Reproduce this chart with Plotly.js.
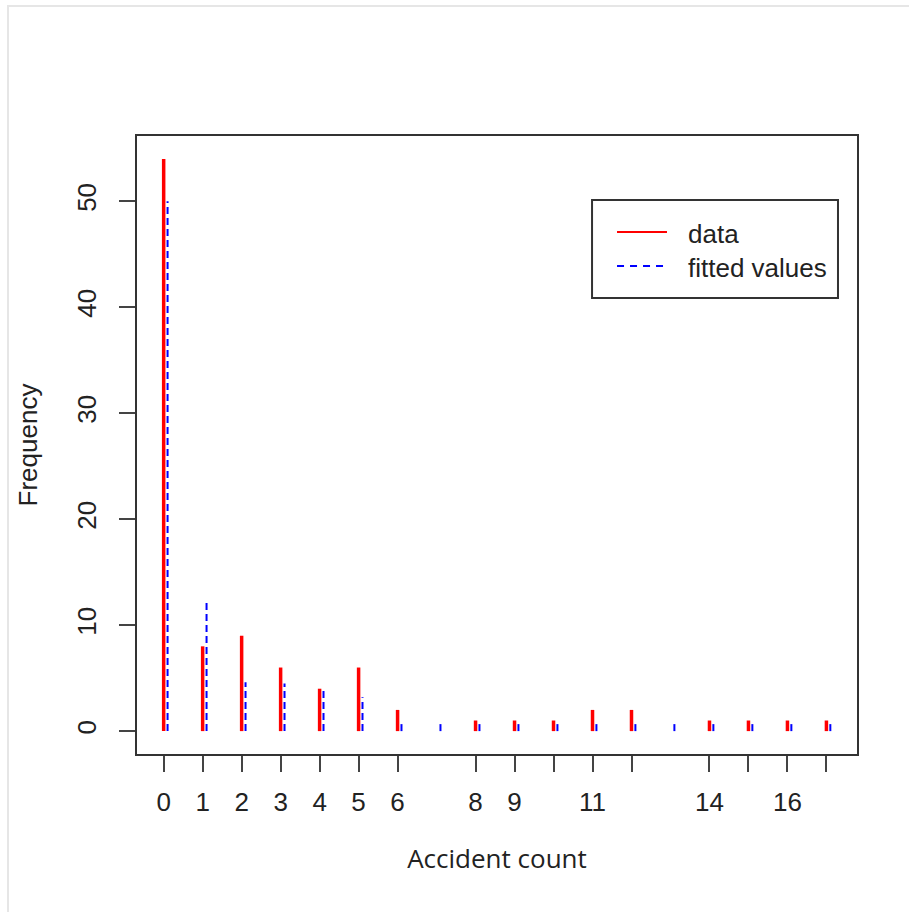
<!DOCTYPE html>
<html>
<head>
<meta charset="utf-8">
<script src="https://cdn.plot.ly/plotly-3.0.1.min.js"></script>
<style>
  html, body { margin: 0; padding: 0; background: #ffffff; }
  #chart { width: 909px; height: 912px; position: absolute; left: 0; top: 0; }
  #frame { position: absolute; left: 7px; top: 5px; right: 0; bottom: 0;
           border-left: 2px solid #e6e6e6; border-top: 2px solid #e6e6e6;
           pointer-events: none; }
</style>
</head>
<body>
<div id="chart"></div>
<div id="frame"></div>
<script>
// Observed accident counts and their frequencies
var dataCounts = [0, 1, 2, 3, 4, 5, 6, 8, 9, 10, 11, 12, 14, 15, 16, 17];
var dataFreq   = [54, 8, 9, 6, 4, 6, 2, 1, 1, 1, 2, 2, 1, 1, 1, 1];

// Fitted values for each count 0..17
var fitCounts = [0, 1, 2, 3, 4, 5, 6, 7, 8, 9, 10, 11, 12, 13, 14, 15, 16, 17];
var fitFreq   = [50, 12.2, 4.6, 4.5, 4.1, 3.2, 0.9, 0.7, 0.7, 0.7, 0.7, 0.7, 0.75, 0.7, 0.7, 0.7, 0.7, 0.7];

// Tick labels (R drops the ones that would overlap)
var xTickVals   = dataCounts;
var xTickLabels = ['0', '1', '2', '3', '4', '5', '6', '8', '9', '', '11', '', '14', '', '16', ''];
var yTickVals   = [0, 10, 20, 30, 40, 50];
var yTickLabels = ['0', '10', '20', '30', '40', '50'];

var seriesNames  = ['data', 'fitted values'];
var seriesColors = ['#ff0000', '#0000ff'];

function stems(xs, ys, dx) {
  var X = [], Y = [];
  for (var i = 0; i < xs.length; i++) {
    X.push(xs[i] + dx, xs[i] + dx, null);
    Y.push(0, ys[i], null);
  }
  return {x: X, y: Y};
}

var FIT_OFFSET = 0.1;
var FIT_DASH = '7px,4px';
var s1 = stems(dataCounts, dataFreq, 0);
var s2 = stems(fitCounts, fitFreq, FIT_OFFSET);

var traces = [
  {x: s1.x, y: s1.y, type: 'scatter', mode: 'lines', name: seriesNames[0], showlegend: false,
   line: {color: seriesColors[0], width: 3.5}, connectgaps: false, hoverinfo: 'skip'},
  {x: s2.x, y: s2.y, type: 'scatter', mode: 'lines', name: seriesNames[1], showlegend: false,
   line: {color: seriesColors[1], width: 2, dash: FIT_DASH}, connectgaps: false, hoverinfo: 'skip'}
];

var textFont = {family: 'Liberation Sans, Arial, sans-serif', size: 26, color: '#222222'};

// Legend box (R-style), in plot-area fractions
var lg = {x0: 0.632, x1: 0.9736, y0: 0.7379, y1: 0.8964,
          lineX0: 0.6667, lineX1: 0.7361, textX: 0.7625, rowY: [0.8447, 0.7896]};

var shapes = [
  {type: 'rect', xref: 'paper', yref: 'paper', x0: lg.x0, x1: lg.x1, y0: lg.y0, y1: lg.y1,
   line: {color: '#333333', width: 2}, fillcolor: '#ffffff', layer: 'above'},
  {type: 'line', xref: 'paper', yref: 'paper', x0: lg.lineX0, x1: lg.lineX1, y0: lg.rowY[0], y1: lg.rowY[0],
   line: {color: seriesColors[0], width: 2}, layer: 'above'},
  {type: 'line', xref: 'paper', yref: 'paper', x0: lg.lineX0, x1: lg.lineX1, y0: lg.rowY[1], y1: lg.rowY[1],
   line: {color: seriesColors[1], width: 2, dash: '7px,6px'}, layer: 'above'}
];

var annotations = seriesNames.map(function (nm, i) {
  return {xref: 'paper', yref: 'paper', x: lg.textX, y: lg.rowY[i] - 0.004, xanchor: 'left', yanchor: 'middle',
          text: nm, showarrow: false, font: textFont};
});

var layout = {
  width: 909, height: 912,
  margin: {l: 137, r: 52, t: 136, b: 158, pad: 0},
  paper_bgcolor: '#ffffff', plot_bgcolor: '#ffffff',
  showlegend: false,
  shapes: shapes,
  annotations: annotations,
  xaxis: {
    range: [-0.684, 17.784], tickmode: 'array', tickvals: xTickVals, ticktext: xTickLabels,
    ticks: 'outside', ticklen: 16, tickwidth: 2, tickcolor: '#444444',
    showgrid: false, zeroline: false, showline: true, mirror: true,
    linecolor: '#333333', linewidth: 2, tickfont: textFont, ticklabelstandoff: 8,
    title: {text: 'Accident count', standoff: 34,
            font: {family: 'Open Sans, sans-serif', size: 26, color: '#222222'}}
  },
  yaxis: {
    range: [-2.16, 56.16], tickmode: 'array', tickvals: yTickVals, ticktext: yTickLabels,
    tickangle: -90,
    ticks: 'outside', ticklen: 16, tickwidth: 2, tickcolor: '#444444',
    showgrid: false, zeroline: false, showline: true, mirror: true,
    linecolor: '#333333', linewidth: 2, tickfont: textFont, ticklabelstandoff: 13,
    title: {text: 'Frequency', standoff: 26, font: textFont}
  }
};

Plotly.newPlot('chart', traces, layout, {displayModeBar: false, staticPlot: true});
</script>
</body>
</html>
